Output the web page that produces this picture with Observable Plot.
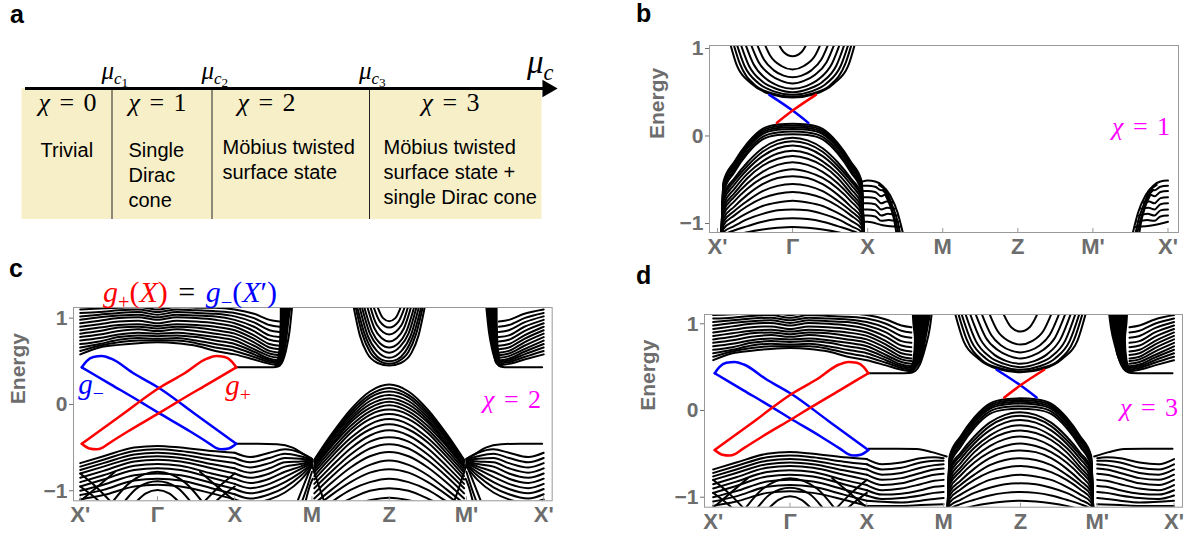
<!DOCTYPE html>
<html><head><meta charset="utf-8">
<script src="https://cdn.jsdelivr.net/npm/d3@7"></script>
<script src="https://cdn.jsdelivr.net/npm/@observablehq/plot@0.6"></script>
<style>
body{margin:0;background:#fff;}
#fig{position:relative;width:1188px;height:542px;overflow:hidden;background:#fff;font-family:"Liberation Sans",Arial,sans-serif;}
.ov{position:absolute;white-space:nowrap;line-height:1;}
.math{font-family:"Liberation Serif","DejaVu Serif",serif;word-spacing:3px;}
.math sub{font-size:0.68em;vertical-align:-0.32em;line-height:0;}
.math sub sub{font-size:0.78em;vertical-align:-0.25em;}
.letter{font-weight:bold;font-size:25px;color:#000;}
.chi{font-size:26px;}
.mag{color:#ff00ff;}
</style></head><body><div id="fig"></div><script>
// ---------------- shared axis data ----------------
const kTicks = [0, 1, 2, 3, 4, 5, 6];
const kLabels = ["X'", "Γ", "X", "M", "Z", "M'", "X'"];
const eTicks = [-1, 0, 1];

// ---------------- panel a data ----------------
const muBounds = [0.9, 1.9, 3.475];          // μc1, μc2, μc3 on the μc axis
const muSpan = [0, 5.2];                      // extent of the phase box
const muSubs = ["1", "2", "3"];
const chiValues = [0, 1, 2, 3];
const chiMu = [0.46, 1.36, 2.45, 4.29];
const phaseNames = ["Trivial", "Single\nDirac\ncone", "Möbius twisted\nsurface state", "Möbius twisted\nsurface state +\nsingle Dirac cone"];
const phaseNameMu = [0.185, 1.065, 2.005, 3.615];
const phaseNameTop = [0.615, 0.615, 0.64, 0.64];

// ---------------- Dirac-point centred features (relative momentum dk, energy) ----------------
const coneValDk = [-0.95, -0.92, -0.78, -0.6, -0.4, -0.2, 0];
const coneValE = [
  [-1.2,-0.52,-0.30,-0.08, 0.08, 0.13, 0.14],
  [-1.2,-0.54,-0.32,-0.10, 0.06, 0.11, 0.12],
  [-1.2,-0.56,-0.34,-0.12, 0.04, 0.09, 0.10],
  [-1.2,-0.58,-0.36,-0.14, 0.02, 0.07, 0.08],
  [-1.2,-0.61,-0.39,-0.17,-0.01, 0.04, 0.05],
  [-1.2,-0.64,-0.42,-0.20,-0.04, 0.01, 0.02],
  [-1.2,-0.67,-0.49,-0.30,-0.14,-0.05,-0.02],
  [-1.2,-0.70,-0.52,-0.34,-0.18,-0.09,-0.06],
  [-1.2,-0.74,-0.56,-0.38,-0.23,-0.14,-0.11],
  [-1.2,-0.78,-0.61,-0.43,-0.29,-0.20,-0.17],
  [-1.2,-0.82,-0.66,-0.48,-0.34,-0.26,-0.23],
  [-1.2,-0.86,-0.70,-0.54,-0.41,-0.33,-0.30],
  [-1.2,-0.90,-0.75,-0.60,-0.48,-0.41,-0.38],
  [-1.2,-0.94,-0.81,-0.67,-0.55,-0.48,-0.46],
  [-1.2,-0.98,-0.86,-0.74,-0.63,-0.57,-0.55],
  [-1.2,-1.02,-0.91,-0.80,-0.71,-0.66,-0.64],
  [-1.2,-1.06,-0.97,-0.88,-0.80,-0.76,-0.74],
  [-1.2,-1.10,-1.03,-0.95,-0.89,-0.85,-0.84],
  [-1.2,-1.14,-1.08,-1.03,-0.98,-0.95,-0.94],
  [-1.2,-1.18,-1.14,-1.10,-1.07,-1.05,-1.04]
];
const coneCondHalf = [
  [[-0.86,1.15],[-0.74,0.80],[-0.55,0.60],[-0.30,0.48],[0,0.44]],
  [[-0.82,1.15],[-0.70,0.82],[-0.50,0.58],[-0.28,0.49],[0,0.45]],
  [[-0.78,1.15],[-0.64,0.80],[-0.45,0.60],[-0.25,0.51],[0,0.47]],
  [[-0.73,1.15],[-0.58,0.80],[-0.40,0.62],[-0.22,0.54],[0,0.50]],
  [[-0.67,1.15],[-0.52,0.82],[-0.35,0.65],[-0.18,0.57],[0,0.54]],
  [[-0.60,1.15],[-0.45,0.84],[-0.30,0.70],[-0.15,0.63],[0,0.60]],
  [[-0.52,1.15],[-0.38,0.87],[-0.25,0.75],[-0.12,0.69],[0,0.67]],
  [[-0.42,1.15],[-0.30,0.92],[-0.15,0.80],[0,0.76]],
  [[-0.24,1.15],[-0.12,0.96],[0,0.91]]
];
const diracBlue = [[-0.31,0.47],[0,0.29],[0.21,0.15]];
const diracRed  = [[-0.21,0.15],[0,0.29],[0.31,0.47]];

// ---------------- panel b : bump at X ----------------
const bBump = [
  [[1.93,-0.52],[2.0,-0.51],[2.1,-0.52],[2.2,-0.57],[2.3,-0.68],[2.4,-0.88],[2.48,-1.15]],
  [[1.93,-0.57],[2.0,-0.57],[2.1,-0.58],[2.18,-0.62],[2.24,-0.61]],
  [[1.93,-0.63],[2.0,-0.63],[2.1,-0.64],[2.18,-0.69],[2.24,-0.67],[2.29,-0.67]],
  [[1.93,-0.70],[2.0,-0.70],[2.1,-0.71],[2.18,-0.77],[2.25,-0.75],[2.33,-0.76]],
  [[1.93,-0.77],[2.0,-0.77],[2.1,-0.78],[2.18,-0.84],[2.26,-0.82],[2.36,-0.83]],
  [[1.93,-0.84],[2.0,-0.84],[2.1,-0.85],[2.18,-0.91],[2.27,-0.89],[2.39,-0.91]],
  [[1.93,-0.91],[2.0,-0.91],[2.1,-0.92],[2.18,-0.97],[2.28,-0.96],[2.41,-0.98]],
  [[1.93,-0.98],[2.0,-0.98],[2.2,-1.02],[2.43,-1.04]],
  [[2.15,-0.56],[2.25,-0.64],[2.33,-0.80],[2.40,-0.98],[2.44,-1.15]],
  [[2.20,-0.62],[2.27,-0.70],[2.33,-0.86],[2.38,-1.00],[2.42,-1.15]],
  [[2.24,-0.68],[2.30,-0.80],[2.35,-0.95],[2.39,-1.15]]
];

// ---------------- panels c, d : X'–X region ----------------
const loopBlue = [
  [[0.02,0.43],[0.08,0.50],[0.17,0.55],[0.28,0.56],[0.40,0.53],[0.70,0.355],[1.02,0.19],[1.50,-0.12],[2.02,-0.455]],
  [[0.02,0.43],[0.40,0.23],[0.78,0.03],[1.01,-0.095],[1.40,-0.30],[1.65,-0.44],[1.75,-0.50],[1.83,-0.52],[1.92,-0.51],[2.02,-0.455]]
];
const loopRed = [
  [[0.02,-0.455],[0.54,-0.12],[1.02,0.19],[1.34,0.355],[1.64,0.53],[1.76,0.56],[1.87,0.55],[1.96,0.50],[2.02,0.43]],
  [[0.02,-0.455],[0.12,-0.51],[0.21,-0.52],[0.29,-0.50],[0.39,-0.44],[0.64,-0.30],[1.03,-0.095],[1.26,0.03],[1.64,0.23],[2.02,0.43]]
];
const upperK = [0, 0.25, 0.5, 0.75, 1, 1.25, 1.5, 1.75, 2, 2.25, 2.45, 2.58];
const upperE = [
  [0.58,0.66,0.69,0.71,0.72,0.71,0.68,0.62,0.58,0.52,0.47,0.45],
  [0.62,0.68,0.72,0.74,0.74,0.74,0.71,0.66,0.62,0.55,0.49,0.47],
  [0.66,0.70,0.75,0.77,0.76,0.77,0.74,0.70,0.66,0.58,0.51,0.49],
  [0.70,0.73,0.78,0.80,0.79,0.80,0.78,0.74,0.70,0.61,0.53,0.51],
  [0.74,0.77,0.81,0.83,0.82,0.83,0.81,0.78,0.74,0.64,0.56,0.54],
  [0.78,0.81,0.85,0.87,0.85,0.87,0.85,0.82,0.78,0.68,0.59,0.57],
  [0.82,0.85,0.89,0.90,0.88,0.90,0.89,0.86,0.82,0.72,0.62,0.60],
  [0.86,0.89,0.92,0.93,0.91,0.93,0.92,0.90,0.86,0.76,0.66,0.64],
  [0.90,0.93,0.96,0.97,0.94,0.97,0.96,0.94,0.90,0.80,0.70,0.68],
  [0.94,0.97,1.00,1.01,0.98,1.01,1.00,0.98,0.94,0.85,0.75,0.73],
  [0.98,1.01,1.03,1.04,1.01,1.04,1.03,1.02,0.98,0.90,0.80,0.78],
  [1.02,1.04,1.06,1.07,1.04,1.07,1.06,1.05,1.02,0.95,0.86,0.84],
  [1.06,1.07,1.09,1.10,1.07,1.10,1.09,1.08,1.06,1.00,0.92,0.90],
  [1.10,1.11,1.12,1.13,1.10,1.13,1.12,1.12,1.10,1.05,0.98,0.96]
];
// steep wall where the upper bands rise (energy, left k, right k)
const wallC = [[0.43,2.52,2.56],[0.47,2.54,2.62],[0.55,2.56,2.645],[0.70,2.58,2.68],[0.85,2.585,2.70],[1.00,2.59,2.72],[1.15,2.59,2.745]];
const wallD = [[0.43,2.54,2.60],[0.47,2.56,2.64],[0.58,2.60,2.72],[0.81,2.62,2.78],[1.00,2.60,2.82],[1.15,2.59,2.85]];
const flatUpC = [[2.02,0.43],[2.3,0.43],[2.5,0.432],[2.56,0.44],[2.62,0.50],[2.67,0.65],[2.71,0.85],[2.745,1.15]];
const flatUpD = [[2.02,0.43],[2.4,0.43],[2.56,0.432],[2.62,0.45],[2.70,0.55],[2.76,0.72],[2.82,0.95],[2.85,1.15]];
const lowerK = [0, 0.3, 0.7, 1, 1.3, 1.7, 2];
const lowerE = [
  [-0.68,-0.60,-0.50,-0.48,-0.50,-0.54,-0.56],
  [-0.72,-0.64,-0.54,-0.52,-0.54,-0.59,-0.62],
  [-0.76,-0.68,-0.58,-0.56,-0.58,-0.64,-0.68],
  [-0.80,-0.72,-0.62,-0.60,-0.62,-0.69,-0.74],
  [-0.85,-0.77,-0.66,-0.64,-0.66,-0.74,-0.80],
  [-0.90,-0.82,-0.71,-0.69,-0.71,-0.80,-0.86],
  [-0.95,-0.87,-0.76,-0.74,-0.76,-0.85,-0.92],
  [-1.00,-0.93,-0.82,-0.80,-0.82,-0.91,-0.98],
  [-1.05,-0.99,-0.88,-0.86,-0.88,-0.97,-1.04],
  [-1.10,-1.05,-0.95,-0.93,-0.95,-1.03,-1.10]
];
const lowerArches = [
  [[0.40,-1.15],[0.65,-0.90],[1.0,-0.78],[1.35,-0.90],[1.60,-1.15]],
  [[0.55,-1.15],[0.75,-0.96],[1.0,-0.89],[1.25,-0.96],[1.45,-1.15]],
  [[0.70,-1.15],[0.85,-1.03],[1.0,-0.99],[1.15,-1.03],[1.30,-1.15]],
  [[0.0,-0.80],[0.2,-0.95],[0.42,-1.15]],
  [[0.0,-1.12],[0.2,-0.97],[0.45,-0.78]],
  [[0.0,-0.95],[0.15,-1.05],[0.28,-1.15]],
  [[1.58,-1.15],[1.8,-0.95],[2.0,-0.80]],
  [[1.55,-0.78],[1.8,-0.97],[2.0,-1.12]],
  [[1.72,-1.15],[1.85,-1.05],[2.0,-0.95]]
];
// X – M valence lines, panel c
const xmC = [
  [[2.02,-0.455],[2.3,-0.455],[2.55,-0.46],[2.75,-0.50],[2.9,-0.58],[3.0,-0.63]],
  [[2.0,-0.56],[2.2,-0.61],[2.45,-0.56],[2.65,-0.52],[2.85,-0.56],[3.0,-0.63]],
  [[2.0,-0.62],[2.2,-0.67],[2.45,-0.62],[2.65,-0.57],[2.85,-0.60],[3.0,-0.64]],
  [[2.0,-0.68],[2.2,-0.73],[2.45,-0.68],[2.65,-0.62],[2.85,-0.63],[3.0,-0.645]],
  [[2.0,-0.74],[2.2,-0.79],[2.45,-0.74],[2.65,-0.67],[2.85,-0.66],[3.0,-0.65]],
  [[2.0,-0.80],[2.2,-0.85],[2.45,-0.80],[2.65,-0.72],[2.85,-0.69],[3.0,-0.66]],
  [[2.0,-0.86],[2.2,-0.91],[2.45,-0.86],[2.65,-0.78],[2.85,-0.72],[3.0,-0.67]],
  [[2.0,-0.92],[2.2,-0.97],[2.45,-0.92],[2.65,-0.84],[2.85,-0.75],[3.0,-0.68]],
  [[2.0,-0.98],[2.2,-1.03],[2.45,-0.98],[2.65,-0.90],[2.85,-0.79],[3.0,-0.69]],
  [[2.0,-1.04],[2.2,-1.09],[2.45,-1.04],[2.65,-0.96],[2.85,-0.83],[3.0,-0.70]],
  [[2.0,-1.10],[2.2,-1.14],[2.45,-1.10],[2.65,-1.02],[2.85,-0.88],[3.0,-0.72]],
  [[2.80,-1.15],[2.90,-0.92],[3.0,-0.70]],
  [[2.86,-1.15],[2.94,-0.95],[3.0,-0.78]],
  [[2.91,-1.15],[2.97,-0.95],[3.01,-0.86]],
  [[3.0,-0.70],[3.08,-0.92],[3.17,-1.15]]
];
// X – M valence lines, panel d
const xmD = [
  [[2.02,-0.44],[2.4,-0.44],[2.65,-0.445],[2.85,-0.48],[3.04,-0.53]],
  [[2.0,-0.56],[2.2,-0.62],[2.45,-0.60],[2.7,-0.55],[2.88,-0.54],[3.0,-0.55]],
  [[2.0,-0.62],[2.2,-0.68],[2.45,-0.66],[2.7,-0.60],[2.88,-0.58],[3.0,-0.58]],
  [[2.0,-0.68],[2.2,-0.74],[2.45,-0.72],[2.7,-0.66],[2.88,-0.63],[3.0,-0.62]],
  [[2.0,-0.74],[2.2,-0.80],[2.45,-0.78],[2.7,-0.72],[2.88,-0.68],[3.0,-0.67]],
  [[2.0,-0.80],[2.2,-0.86],[2.45,-0.84],[2.7,-0.78],[2.88,-0.74],[3.0,-0.73]],
  [[2.0,-0.86],[2.2,-0.92],[2.45,-0.90],[2.7,-0.85],[2.88,-0.81],[3.0,-0.80]],
  [[2.0,-0.92],[2.2,-0.97],[2.45,-0.96],[2.7,-0.92],[2.88,-0.88],[3.0,-0.87]],
  [[2.0,-0.98],[2.2,-1.02],[2.45,-1.01],[2.7,-0.98],[2.88,-0.95],[3.0,-0.94]],
  [[2.0,-1.04],[2.45,-1.06],[2.7,-1.04],[2.88,-1.02],[3.0,-1.01]],
  [[2.0,-1.10],[2.45,-1.10],[2.7,-1.09],[3.0,-1.08]]
];
// Z-centred tent dome (panel c), left half on grid dk
const tentDk = [-0.97, -0.75, -0.5, -0.25, 0];
const tentE = [
  [-0.64,-0.35,-0.06, 0.15, 0.23],
  [-0.65,-0.37,-0.09, 0.11, 0.19],
  [-0.66,-0.39,-0.12, 0.08, 0.15],
  [-0.67,-0.41,-0.15, 0.04, 0.11],
  [-0.69,-0.44,-0.18, 0.00, 0.07],
  [-0.71,-0.47,-0.21,-0.04, 0.03],
  [-0.73,-0.49,-0.25,-0.08,-0.01],
  [-0.76,-0.53,-0.29,-0.12,-0.06],
  [-0.79,-0.57,-0.33,-0.17,-0.11],
  [-0.83,-0.61,-0.39,-0.23,-0.17],
  [-0.87,-0.66,-0.44,-0.29,-0.23],
  [-0.92,-0.72,-0.51,-0.36,-0.30],
  [-0.97,-0.78,-0.58,-0.43,-0.38],
  [-1.03,-0.84,-0.65,-0.51,-0.46],
  [-1.09,-0.91,-0.73,-0.60,-0.55],
  [-1.15,-0.99,-0.82,-0.70,-0.65],
  [-1.20,-1.05,-0.90,-0.79,-0.75],
  [-1.26,-1.13,-0.99,-0.90,-0.86],
  [-1.32,-1.20,-1.09,-1.00,-0.97],
  [-1.38,-1.28,-1.18,-1.11,-1.08]
];
const zCondHalfC = [
  [[-0.465,1.15],[-0.38,0.80],[-0.29,0.60],[-0.15,0.48],[0,0.45]],
  [[-0.44,1.15],[-0.35,0.82],[-0.25,0.61],[-0.12,0.50],[0,0.47]],
  [[-0.42,1.15],[-0.32,0.82],[-0.20,0.60],[-0.10,0.52],[0,0.50]],
  [[-0.39,1.15],[-0.28,0.80],[-0.16,0.62],[0,0.54]],
  [[-0.36,1.15],[-0.25,0.82],[-0.14,0.67],[0,0.60]],
  [[-0.33,1.15],[-0.22,0.84],[-0.12,0.71],[0,0.66]],
  [[-0.29,1.15],[-0.19,0.88],[-0.10,0.77],[0,0.73]],
  [[-0.25,1.15],[-0.16,0.92],[0,0.81]],
  [[-0.21,1.15],[-0.12,0.96],[0,0.89]],
  [[-0.16,1.15],[-0.08,1.00],[0,0.965]]
];

// ---------------- helpers (assembly only) ----------------
const fig = document.getElementById("fig");
const symm = half => half.concat(half.filter(p => p[0] < 0).map(([d, e]) => [-d, e]));
const shift = (lines, c) => lines.map(pts => pts.map(([d, e]) => [c + d, e]));
const mirrorZ = lines => lines.map(pts => pts.filter(p => p[0] >= 2).map(([k, e]) => [8 - k, e])).filter(p => p.length > 1);
const gridLines = (ks, rows) => rows.map(r => r.map((e, j) => [ks[j], e]));
const wallRows = w => w.map(([e, k1, k2]) => ({e, k1, k2, side: "L"})).concat(w.map(([e, k1, k2]) => ({e, k1: 8 - k2, k2: 8 - k1, side: "R"})));
function toRows(lines, tag) {
  const rows = [];
  lines.forEach((pts, i) => {
    pts.slice().sort((a, b) => a[0] - b[0]).forEach(([k, e]) => rows.push({k, e, id: tag + i}));
  });
  return rows;
}
function addHTML(html, cls, left, top, transform) {
  const d = document.createElement("div");
  d.className = "ov " + cls;
  d.innerHTML = html;
  d.style.left = left + "px";
  d.style.top = top + "px";
  if (transform) d.style.transform = transform;
  fig.appendChild(d);
  return d;
}
const fmtE = d => (d < 0 ? "−" : "") + Math.abs(d);

const coneVal = gridLines(coneValDk, coneValE).map(symm);
const coneCond = coneCondHalf.map(symm);
const tent = gridLines(tentDk, tentE).map(symm);
const zCondC = zCondHalfC.map(symm);
const upper = gridLines(upperK, upperE);
const lower = gridLines(lowerK, lowerE).concat(lowerArches);

function bandPanel({left, top, xDomain, yDomain, frameW, frameH, black, blue, red, wall, energyDx}) {
  const mL = 70, mR = 4, mT = 14, mB = 34;
  const tick = (yDomain[1] - yDomain[0]) * 4 / frameH;
  const lineOpts = {x: "k", y: "e", z: "id", curve: "monotone-x", clip: true};
  const svg = Plot.plot({
    width: mL + frameW + mR, height: mT + frameH + mB,
    marginLeft: mL, marginRight: mR, marginTop: mT, marginBottom: mB,
    x: {domain: xDomain}, y: {domain: yDomain},
    style: {fontFamily: "Liberation Sans, Arial, sans-serif", background: "transparent"},
    marks: [
      wall ? Plot.areaX(wallRows(wall), {y: "e", x1: "k1", x2: "k2", z: "side", fill: "black", curve: "monotone-y", clip: true}) : null,
      Plot.line(toRows(black, "k"), {...lineOpts, stroke: "black", strokeWidth: 2}),
      Plot.line(toRows(blue, "b"), {...lineOpts, stroke: "#0000ff", strokeWidth: 2.5}),
      Plot.line(toRows(red, "r"), {...lineOpts, stroke: "#ff0000", strokeWidth: 2.5}),
      Plot.frame({stroke: "#999", strokeWidth: 1}),
      Plot.ruleX(kTicks, {x: d => d, y1: yDomain[0], y2: yDomain[0] + tick, stroke: "#999"}),
      Plot.axisX({ticks: kTicks, tickFormat: d => kLabels[d], tickSize: 0, tickPadding: 6, fontSize: 22, fontWeight: "bold", color: "#6d6d6d", label: null}),
      Plot.axisY({ticks: eTicks, tickFormat: fmtE, tickSize: 4, tickPadding: 2, fontSize: 21, fontWeight: "bold", color: "#6d6d6d", label: null}),
      Plot.text(["Energy"], {text: d => d, frameAnchor: "left", rotate: -90, dx: energyDx, fontSize: 21, fontWeight: "bold", fill: "#6d6d6d"})
    ]
  });
  svg.style.position = "absolute";
  svg.style.left = left + "px";
  svg.style.top = top + "px";
  fig.appendChild(svg);
  return svg;
}

// ---------------- panel a ----------------
const phaseRows = phaseNames.map((t, i) => ({t, x: phaseNameMu[i], y: phaseNameTop[i]}));
const aPlot = Plot.plot({
  width: 580, height: 200, marginLeft: 0, marginRight: 0, marginTop: 48, marginBottom: 21,
  x: {domain: [-0.215, 5.585], axis: null}, y: {domain: [0, 1], axis: null},
  style: {fontFamily: "Liberation Sans, Arial, sans-serif", background: "transparent"},
  marks: [
    Plot.rect([muSpan], {x1: d => d[0], x2: d => d[1], y1: 0, y2: 1, fill: "#f7efc8"}),
    Plot.ruleX(muBounds, {x: d => d, y1: 0, y2: 1, stroke: "#222", strokeWidth: 1}),
    Plot.ruleY([1], {x1: 0.035, x2: 5.27, stroke: "black", strokeWidth: 3}),
    Plot.dot([5.255], {x: d => d, y: 1, symbol: "triangle", r: 6.5, rotate: 90, fill: "black", stroke: "none"}),
    Plot.text(phaseRows, {x: "x", y: "y", text: "t", textAnchor: "start", lineAnchor: "top", lineHeight: 1.26, fontSize: 20, fill: "black"})
  ]
});
aPlot.style.position = "absolute";
aPlot.style.left = "0px";
aPlot.style.top = "40px";
fig.appendChild(aPlot);
const sxA = v => aPlot.scale("x").apply(v);
muBounds.forEach((b, i) => addHTML(`<i>μ</i><sub><i>c</i><sub>${muSubs[i]}</sub></sub>`, "math", sxA(b) - 10, 71, "translate(0,-50%)").style.fontSize = "25px");
addHTML(`<i>μ</i><sub><i>c</i></sub>`, "math", 527, 62, "translate(0,-50%)").style.fontSize = "33px";
chiValues.forEach((c, i) => addHTML(`<i>χ</i> = ${c}`, "math chi", sxA(chiMu[i]), 103, "translate(-50%,-50%)"));

// ---------------- panel b ----------------
bandPanel({
  left: 639, top: 31, frameW: 469, frameH: 187,
  xDomain: [-0.107, 6.14], yDomain: [-1.103, 1.034], energyDx: -52,
  black: shift(coneCond, 1).concat(shift(coneVal, 1), bBump, mirrorZ(bBump)),
  blue: shift([diracBlue], 1), red: shift([diracRed], 1)
});

// ---------------- panel c ----------------
const upperC = upper.concat([flatUpC]);
bandPanel({
  left: 3.3, top: 292.7, frameW: 478.7, frameH: 193.3,
  xDomain: [-0.087, 6.11], yDomain: [-1.116, 1.123], energyDx: -55, wall: wallC,
  black: upperC.concat(lower, xmC, mirrorZ(upperC), mirrorZ(xmC), shift(tent, 4), shift(zCondC, 4)),
  blue: loopBlue, red: loopRed
});

// ---------------- panel d ----------------
const upperD = upper.concat([flatUpD]);
bandPanel({
  left: 634, top: 300, frameW: 478, frameH: 192.7,
  xDomain: [-0.113, 6.11], yDomain: [-1.115, 1.107], energyDx: -56, wall: wallD,
  black: upperD.concat(lower, xmD, mirrorZ(upperD), mirrorZ(xmD), shift(coneVal, 4), shift(coneCond, 4)),
  blue: loopBlue.concat(shift([diracBlue], 4)), red: loopRed.concat(shift([diracRed], 4))
});

// ---------------- text overlays ----------------
addHTML("a", "letter", 10, 2);
addHTML("b", "letter", 636, 1);
addHTML("c", "letter", 9, 256);
addHTML("d", "letter", 636, 263);
addHTML(`<i>χ</i> = 1`, "math chi mag", 1141, 127, "translate(-50%,-50%)");
addHTML(`<i>χ</i> = 2`, "math chi mag", 512, 400, "translate(-50%,-50%)");
addHTML(`<i>χ</i> = 3`, "math chi mag", 1149, 408, "translate(-50%,-50%)");
addHTML(`<span style="color:#ff0000"><i>g</i><sub>+</sub>(<i>X</i>)</span> = <span style="color:#0000ff"><i>g</i><sub>−</sub>(<i>X</i>′)</span>`, "math", 190, 292, "translate(-50%,-50%)").style.fontSize = "30px";
addHTML(`<i>g</i><sub>−</sub>`, "math", 91, 384, "translate(-50%,-50%)").style.cssText += "font-size:29px;color:#0000ff;";
addHTML(`<i>g</i><sub>+</sub>`, "math", 238, 385, "translate(-50%,-50%)").style.cssText += "font-size:29px;color:#ff0000;";
</script></body></html>
